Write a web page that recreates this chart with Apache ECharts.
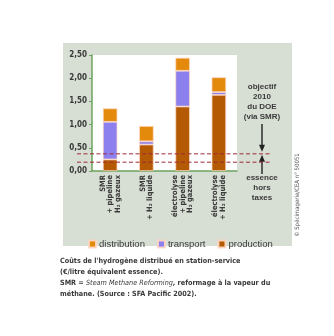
<!DOCTYPE html>
<html><head><meta charset="utf-8">
<script src="https://cdn.jsdelivr.net/npm/echarts@6/dist/echarts.min.js"></script>
<style>html,body{margin:0;padding:0;background:#fff;}#c{width:334px;height:336px;}</style>
</head><body><div id="c"></div>
<script>
const categories = ["SMR\n+ pipeline\nH₂ gazeux", "SMR\n+ H₂ liquide", "électrolyse\n+ pipeline\nH₂ gazeux", "électrolyse\n+ H₂ liquide"];
const production = [0.25, 0.57, 1.39, 1.64];
const transport = [0.81, 0.07, 0.77, 0.06];
const distribution = [0.29, 0.33, 0.28, 0.32];
const doeTarget = 0.37;
const essenceHT = 0.19;
const yTicks = [0, 0.5, 1, 1.5, 2, 2.5];

const FONT = '"Liberation Sans Narrow", "DejaVu Sans Condensed", "Liberation Sans", sans-serif';
const FONTW = '"Liberation Sans", "DejaVu Sans", sans-serif';
const C_DIST = '#E38A0C', C_TRANS = '#8C80EE', C_PROD = '#B45A05';
const GREEN = '#6EA35C', TXT = '#3a3a3a';

const chart = echarts.init(document.getElementById('c'), null, {renderer: 'canvas'});
function barSeries(name, data, color) {
  return {name, type: 'bar', stack: 'total', data, barWidth: '40%',
    itemStyle: {color, borderColor: 'rgba(255,215,195,0.9)', borderWidth: 0.8},
    emphasis: {disabled: true}, silent: true};
}
const option = {
  animation: false,
  textStyle: {fontFamily: FONT},
  grid: {left: 92, top: 55, right: 97, bottom: 165},
  xAxis: {type: 'category', data: categories,
    axisLine: {lineStyle: {color: GREEN, width: 1.5}},
    axisTick: {show: false},
    axisLabel: {rotate: 90, margin: 4, fontSize: 7.5, lineHeight: 7.5, color: TXT, fontWeight: 'bold', fontFamily: FONT}},
  yAxis: {type: 'value', min: yTicks[0], max: yTicks[yTicks.length-1], interval: 0.5,
    axisLine: {show: true, lineStyle: {color: GREEN, width: 1.5}},
    axisTick: {show: true, length: 3, lineStyle: {color: GREEN}},
    splitLine: {show: false},
    axisLabel: {margin: 5, fontSize: 8, color: TXT, fontWeight: 'bold', fontFamily: FONT,
      formatter: v => v.toFixed(2).replace('.', ',')}},
  legend: {left: 83, top: 234, itemWidth: 7, itemHeight: 7, itemGap: 12, icon: 'rect',
    textStyle: {fontSize: 9.5, color: TXT, fontFamily: FONTW, padding: [0,0,0,-2]},
    data: ['distribution', 'transport', 'production'], selectedMode: false},
  series: [
    barSeries('production', production, C_PROD),
    barSeries('transport', transport, C_TRANS),
    barSeries('distribution', distribution, C_DIST)
  ]
};
chart.setOption(option);

const yDoe = chart.convertToPixel({yAxisIndex: 0}, doeTarget);
const yEss = chart.convertToPixel({yAxisIndex: 0}, essenceHT);
const dash = {stroke: '#9E2A36', lineWidth: 1, lineDash: [4, 2.5]};
const txtStyle = (t, x, y) => ({type: 'text', x, y, style: {text: t, fill: TXT, font: 'bold 8px ' + FONTW, align: 'center', verticalAlign: 'top', lineHeight: 10}});
chart.setOption({graphic: [
  {type: 'rect', shape: {x: 63, y: 43, width: 229, height: 203}, style: {fill: '#D7DED4'}, z: -10, silent: true},
  {type: 'rect', shape: {x: 92, y: 55, width: 145, height: 116}, style: {fill: '#fff'}, z: -9, silent: true},
  {type: 'line', shape: {x1: 77, y1: yDoe, x2: 272, y2: yDoe}, style: dash, z: 10},
  {type: 'line', shape: {x1: 77, y1: yEss, x2: 272, y2: yEss}, style: dash, z: 10},
  txtStyle('objectif\n2010\ndu DOE\n(via SMR)', 262, 82),
  {type: 'line', shape: {x1: 262, y1: 124, x2: 262, y2: yDoe - 8}, style: {stroke: '#222', lineWidth: 1.4}},
  {type: 'polygon', shape: {points: [[259, yDoe - 9], [265, yDoe - 9], [262, yDoe - 2]]}, style: {fill: '#222'}},
  {type: 'line', shape: {x1: 262, y1: yDoe + 7, x2: 262, y2: 174}, style: {stroke: '#222', lineWidth: 1.4}},
  {type: 'polygon', shape: {points: [[259, yDoe + 8], [265, yDoe + 8], [262, yDoe + 1]]}, style: {fill: '#222'}},
  txtStyle('essence\nhors\ntaxes', 262, 173),
  {type: 'text', x: 297, y: 195, rotation: Math.PI / 2,
    style: {text: '© Spécimagerie/CEA n° 50051', fill: '#555', font: '6px ' + FONT, align: 'center', verticalAlign: 'middle'}},
  {type: 'text', x: 60, y: 256, style: {rich: {n: {fontSize: 7.2, fontFamily: FONT, fill: '#3a3a3a', fontWeight: 'bold'}, i: {fontSize: 7.2, fontFamily: FONT, fill: '#3a3a3a', fontStyle: 'italic'}},
    text: "{n|Coûts de l'hydrogène distribué en station-service}\n{n|(€/litre équivalent essence).}\n{n|SMR = }{i|Steam Methane Reforming}{n|, reformage à la vapeur du}\n{n|méthane. (Source : SFA Pacific 2002).}", lineHeight: 11, fill: '#333'}}
]});
</script></body></html>
